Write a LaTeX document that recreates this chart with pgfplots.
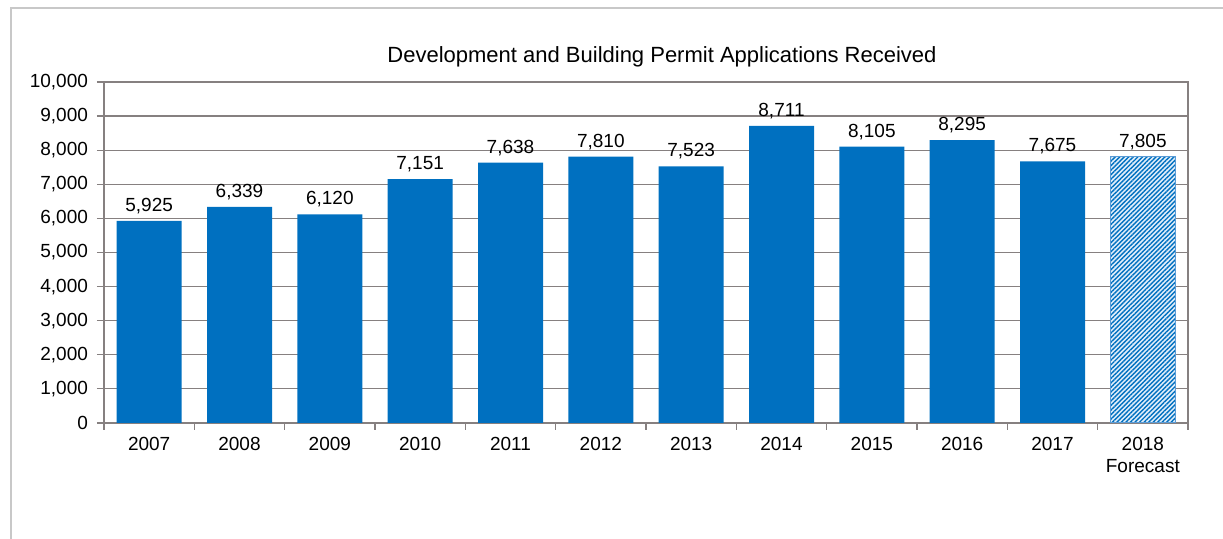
\documentclass[border=0pt]{standalone}
\usepackage{pgfplots}
\pgfplotsset{compat=1.18}
\usepackage{fontspec}
\setmainfont{Liberation Sans}
\usetikzlibrary{patterns.meta}

\definecolor{barblue}{RGB}{0,112,192}
\definecolor{edgeblue}{RGB}{91,155,213}
\definecolor{gridgray}{RGB}{134,128,128}
\definecolor{framegray}{RGB}{200,200,200}

\begin{document}
\begin{tikzpicture}
  \useasboundingbox (0,0) rectangle (611.5pt,269.5pt);
  \draw[framegray, line width=0.8pt] (5.5pt,0) -- (5.5pt,265.5pt) -- (611.5pt,265.5pt);
  \node[font=\fontsize{11}{13}\selectfont] at (331pt,241pt) {Development and Building Permit Applications Received};
  \begin{axis}[
    at={(52pt,58pt)}, anchor=south west,
    scale only axis, width=542pt, height=170.5pt,
    xmin=-0.5, xmax=11.5, ymin=0, ymax=10000,
    ytick={0,1000,...,10000},
    scaled y ticks=false,
    /pgf/number format/.cd, 1000 sep={,}, assume math mode=true, /pgfplots/.cd,
    xtick={0,...,11},
    xticklabels={2007,2008,2009,2010,2011,2012,2013,2014,2015,2016,2017,{2018\\Forecast}},
    xticklabel style={align=center},
    yticklabel style={xshift=-1pt},
    minor xtick={-0.5,0.5,...,11.5},
    major x tick style={draw=none},
    xtick pos=bottom, ytick pos=left,
    tick align=outside,
    major tick length=3.5pt, minor tick length=3.5pt,
    tick style={gridgray, line width=0.6pt},
    ymajorgrids,
    grid style={gridgray, line width=0.6pt},
    axis line style={gridgray, line width=0.6pt},
    tick label style={font=\fontsize{9.5}{11}\selectfont},
    nodes near coords={\pgfmathprintnumber[assume math mode=true]{\pgfplotspointmeta}},
    nodes near coords style={font=\fontsize{9.5}{11}\selectfont, text=black},
  ]
    \addplot[ybar, bar width=32.5pt, fill=barblue, draw=none, point meta=y] coordinates {
      (0,5925) (1,6339) (2,6120) (3,7151) (4,7638) (5,7810)
      (6,7523) (7,8711) (8,8105) (9,8295) (10,7675)
    };
    \addplot[ybar, bar width=32.5pt, fill={rgb,255:red,225;green,238;blue,250}, draw=edgeblue, line width=0.6pt,
      postaction={pattern={Lines[angle=45,distance=1.6pt,line width=0.7pt]}, pattern color=barblue},
      point meta=y] coordinates {
      (11,7805)
    };
  \end{axis}
\end{tikzpicture}
\end{document}
